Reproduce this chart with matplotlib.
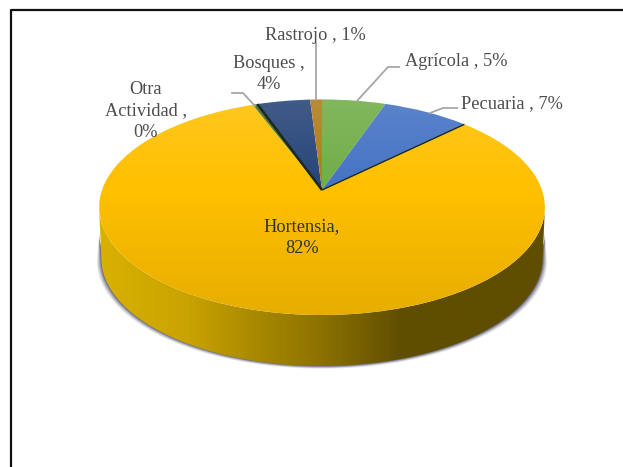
import numpy as np
import matplotlib
matplotlib.use("Agg")
import matplotlib.pyplot as plt
from matplotlib.transforms import Transform, Affine2D
from matplotlib.colors import LinearSegmentedColormap
from matplotlib.patches import Polygon

categories = ["Agrícola", "Pecuaria", "Hortensia", "Otra Actividad", "Bosques", "Rastrojo"]
values = [5.4, 7.4, 81.5, 0.4, 4.5, 1.0]
colors = ["#70AD47", "#4472C4", "#FFC000", "#43682B", "#264478", "#B07A1A"]
label_texts = ["Agrícola , 5%", "Pecuaria , 7%", "Hortensia,\n82%", "Otra\nActividad ,\n0%", "Bosques ,\n4%", "Rastrojo , 1%"]
label_pos = [(456, 61), (512, 104), (302, 238), (146, 111), (269, 74), (315, 35)]
label_cols = ["#4d4d4d", "#4d4d4d", "#333333", "#4d4d4d", "#4d4d4d", "#4d4d4d"]
leaders = [[(399, 67), (388, 67), (357, 101)],
           [(457, 108), (443, 108), (430, 113)],
           [(232, 93), (243, 93), (255, 106)],
           [(316, 43), (316, 100)]]

K = 0.16
CX, CY, SX, SY = 322, 190, 220, 105
DEPTH, SHRINK = 51, 0.99


class Perspective(Transform):
    input_dims = output_dims = 2
    is_separable = False
    has_inverse = False

    def transform_non_affine(self, v):
        v = np.asarray(v, float)
        w = 1 + K * v[:, 1]
        return np.column_stack([v[:, 0] / w, v[:, 1] / w])


fig = plt.figure(figsize=(6.23, 4.67), dpi=100, facecolor="white")
ax = fig.add_axes([0, 0, 1, 1])
wedges, _ = ax.pie(values, colors=colors, startangle=90, counterclock=False)
ax.set_aspect("auto")
ax.set_xlim(0, 623)
ax.set_ylim(467, 0)
ax.axis("off")

persp = Perspective() + Affine2D().scale(SX, -SY).translate(CX, CY)
for w in wedges:
    w.set_transform(persp + ax.transData)
    w.set_zorder(5)
    w.set_linewidth(0)

# outline of the disc in pixel space
t = np.linspace(0, 2 * np.pi, 721)
rim = persp.transform(np.column_stack([np.cos(t), np.sin(t)]))
yc = (rim[:, 1].min() + rim[:, 1].max()) / 2
low = rim[rim[:, 1] >= yc]
low = low[np.argsort(low[:, 0])]
bottom = low.copy()
bottom[:, 0] = CX + (bottom[:, 0] - CX) * SHRINK
bottom[:, 1] += DEPTH
wall_pts = np.vstack([low, bottom[::-1]])

# soft shadow under the wall
for g, a in zip([4.5, 3.5, 2.5, 1.5, 0.7], [0.10, 0.14, 0.2, 0.26, 0.32]):
    sh = bottom.copy()
    sh[:, 0] = CX + (sh[:, 0] - CX) * (1 + g / 220)
    sh[:, 1] += g * 0.6
    top_sh = low.copy()
    top_sh[:, 1] += 25
    ax.add_patch(Polygon(np.vstack([top_sh, sh[::-1]]), closed=True, fc="#30304a", ec="none", alpha=a, zorder=2))

# side wall with horizontal gradient
wall_cmap = LinearSegmentedColormap.from_list("wall", [
    (0.0, "#D9B100"), (0.2, "#C9A300"), (0.35, "#A98900"), (0.5, "#8C7100"),
    (0.68, "#5F4D00"), (1.0, "#5F4D00")])
im = ax.imshow(np.linspace(0, 1, 256)[None, :], cmap=wall_cmap, extent=(99, 545, 372, 200),
               aspect="auto", zorder=3)
wall = Polygon(wall_pts, closed=True, transform=ax.transData, fc="none", ec="none")
ax.add_patch(wall)
im.set_clip_path(wall)
ax.set_xlim(0, 623)
ax.set_ylim(467, 0)

# light falloff over the top face
shade = np.zeros((256, 1, 4))
yy = np.linspace(98, 316, 256)
up = np.clip((190 - yy) / 92, 0, 1)
dn = np.clip((yy - 190) / 126, 0, 1)
shade[:, 0, :3] = np.where(up[:, None] > 0, 1.0, 0.0) * np.array([1.0, 1.0, 1.0])
shade[:, 0, 3] = 0.13 * up + 0.10 * dn
im2 = ax.imshow(shade, extent=(99, 546, 316, 98), aspect="auto", zorder=6)
disc = Polygon(rim, closed=True, fc="none", ec="none")
ax.add_patch(disc)
im2.set_clip_path(disc)
ax.set_xlim(0, 623)
ax.set_ylim(467, 0)

# dark edges along the slice sides where the disc is cut
fr = np.cumsum(values) / np.sum(values)
for f, lw in [(fr[1], 1.0), (fr[3], 1.8)]:
    a = np.pi / 2 - 2 * np.pi * f
    e = persp.transform(np.array([[0, 0], [np.cos(a), np.sin(a)]]))
    ax.plot(e[:, 0], e[:, 1], color="#1b2a1a", lw=lw, zorder=7, solid_capstyle="butt")

for pts in leaders:
    p = np.array(pts)
    ax.plot(p[:, 0], p[:, 1], color="#A6A6A6", lw=1.3, zorder=8)

for s, (x, y), c in zip(label_texts, label_pos, label_cols):
    ax.text(x, y, s, ha="center", va="center", color=c, fontsize=13.2,
            family="Liberation Serif", linespacing=1.38, zorder=9)

# page frame: left and top rules only
ax.plot([10.5, 10.5, 623], [467, 10, 10], color="#111111", lw=1.6, zorder=10)

fig.savefig("out.png", dpi=100)
